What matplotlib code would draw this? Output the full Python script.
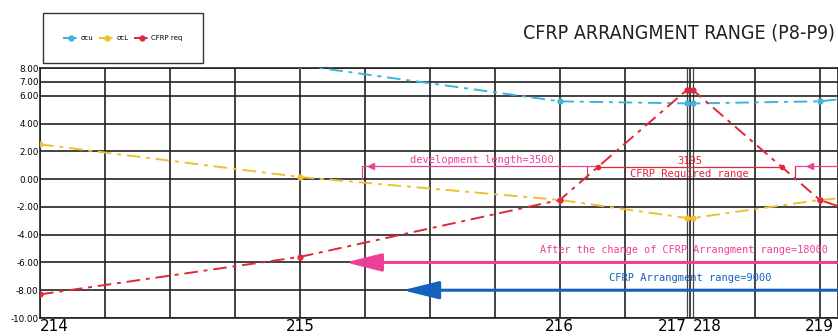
import matplotlib.pyplot as plt
import matplotlib.patches as mpatches

# stations along the span (mm from P214), values in N/mm2
stations = [0, 4000, 8000, 9950, 10050, 12000, 13000]
sigma_cu = [10.6, 8.2, 5.6, 5.45, 5.45, 5.6, 6.1]
sigma_cl = [2.5, 0.15, -1.5, -2.8, -2.8, -1.5, -1.1]
cfrp_req = [-8.3, -5.6, -1.5, 6.4, 6.4, -1.5, -3.1]

pier_pos = [0, 4000, 8000, 9950, 10050, 12000]
pier_labels = ['214', '215', '216', '217', '218', '219']
ytick_vals = [8, 7, 6, 4, 2, 0, -2, -4, -6, -8, -10]

dev_length = [4950, 8585]
req_range = [8585, 11415]
arrange_after = [4660, 12300]
arrange_before = [5540, 12300]

c_cu = '#3cb4dc'
c_cl = '#f0c030'
c_req = '#e0283a'
c_pink = '#ee3f98'
c_blue = '#1462be'
dd = (7, 3, 2, 3)

fig = plt.figure(figsize=(8.38, 3.36), dpi=100)
ax = fig.add_axes([40 / 838, 18 / 336, 798 / 838, 250 / 336])

# grid
for x in range(0, 13000, 1000):
    ax.axvline(x, color='#222222', lw=1.2, zorder=1)
for x in [9950, 10050]:
    ax.axvline(x, color='#444444', lw=0.9, zorder=1)
for y in ytick_vals:
    ax.axhline(y, color='#222222', lw=1.2, zorder=1)

ax.plot(stations, sigma_cu, color=c_cu, lw=1.4, dashes=dd, marker='o', ms=3.5, label='σcu', zorder=3)
ax.plot(stations, sigma_cl, color=c_cl, lw=1.4, dashes=dd, marker='o', ms=3.5, label='σcL', zorder=3)
ax.plot(stations, cfrp_req, color=c_req, lw=1.4, dashes=dd, marker='o', ms=3.5, label='CFRP req', zorder=4)

mono = 'DejaVu Sans Mono'

# development length dimension
ax.plot([dev_length[0], dev_length[0], dev_length[1]], [0.0, 0.92, 0.92], color=c_pink, lw=0.9, zorder=5)
ax.plot([dev_length[0] + 150], [0.92], marker='<', color=c_pink, ms=4, zorder=5)
ax.text(6800, 1.05, 'development length=3500', color=c_pink, fontsize=7.5,
        family=mono, ha='center', va='bottom', zorder=6)
ax.plot([11615, 11615, 12400], [0.15, 0.92, 0.92], color=c_pink, lw=0.9, zorder=5)
ax.plot([11850], [0.92], marker='<', color=c_pink, ms=4, zorder=5)

# required range dimension
ax.plot(req_range, [0.85, 0.85], color=c_req, lw=0.9, zorder=5)
ax.plot([8415, 8415], [0.15, 0.85], color=c_req, lw=0.7, zorder=5)
ax.plot([11615, 11615], [0.15, 0.85], color=c_req, lw=0.7, zorder=5)
ax.plot(req_range, [0.85, 0.85], ls='none', marker='o', color=c_req, ms=3, zorder=5)
mid = sum(req_range) / 2
ax.text(mid, 0.95, '3195', color=c_req, fontsize=7.5, family=mono,
        ha='center', va='bottom', zorder=6)
ax.text(mid, 0.75, 'CFRP Required range', color=c_req, fontsize=7.5, family=mono,
        ha='center', va='top', zorder=6)

# arrangement ranges
ax.annotate('', xy=(arrange_after[0], -6), xytext=(arrange_after[1], -6),
            arrowprops=dict(arrowstyle='-|>,head_length=2.2,head_width=0.55', color=c_pink, lw=2.2),
            zorder=6)
ax.text(7700, -5.45, 'After the change of CFRP Arrangment range=18000', color=c_pink, fontsize=7.3,
        family=mono, ha='left', va='bottom', zorder=6)
ax.annotate('', xy=(arrange_before[0], -8), xytext=(arrange_before[1], -8),
            arrowprops=dict(arrowstyle='-|>,head_length=2.2,head_width=0.55', color=c_blue, lw=2.2),
            zorder=6)
ax.text(10000, -7.45, 'CFRP Arrangment range=9000', color=c_blue, fontsize=7.5,
        family=mono, ha='center', va='bottom', zorder=6)

ax.set_xlim(0, 12280)
ax.set_ylim(-10, 8)
ax.set_yticks(ytick_vals)
ax.set_yticklabels([f'{v:.2f}' for v in ytick_vals], fontsize=6.3)
ax.set_xticks(pier_pos)
ax.set_xticklabels(pier_labels, fontsize=11)
xl = ax.get_xticklabels()
xl[0].set_ha('left')
xl[3].set_ha('right')
xl[4].set_ha('left')
ax.tick_params(axis='both', length=0, pad=1)
for s in ax.spines.values():
    s.set_color('#222222')
    s.set_linewidth(1.2)

# legend in a box above the plot
fig.patches.append(mpatches.Rectangle((43 / 838, 1 - 63 / 336), 160 / 838, 50 / 336,
                                      transform=fig.transFigure, fill=False, ec='#333333', lw=1))
fig.legend(loc='center', bbox_to_anchor=(123 / 838, 1 - 38 / 336), ncol=3, frameon=False,
           fontsize=5, handlelength=2.2, columnspacing=0.8, handletextpad=0.3)

fig.text(835 / 838, 1 - 33 / 336, 'CFRP ARRANGMENT RANGE (P8-P9)', ha='right', va='center',
         fontsize=14, family='DejaVu Sans', fontstretch='condensed', color='#222222')

fig.savefig('out.png', dpi=100)
